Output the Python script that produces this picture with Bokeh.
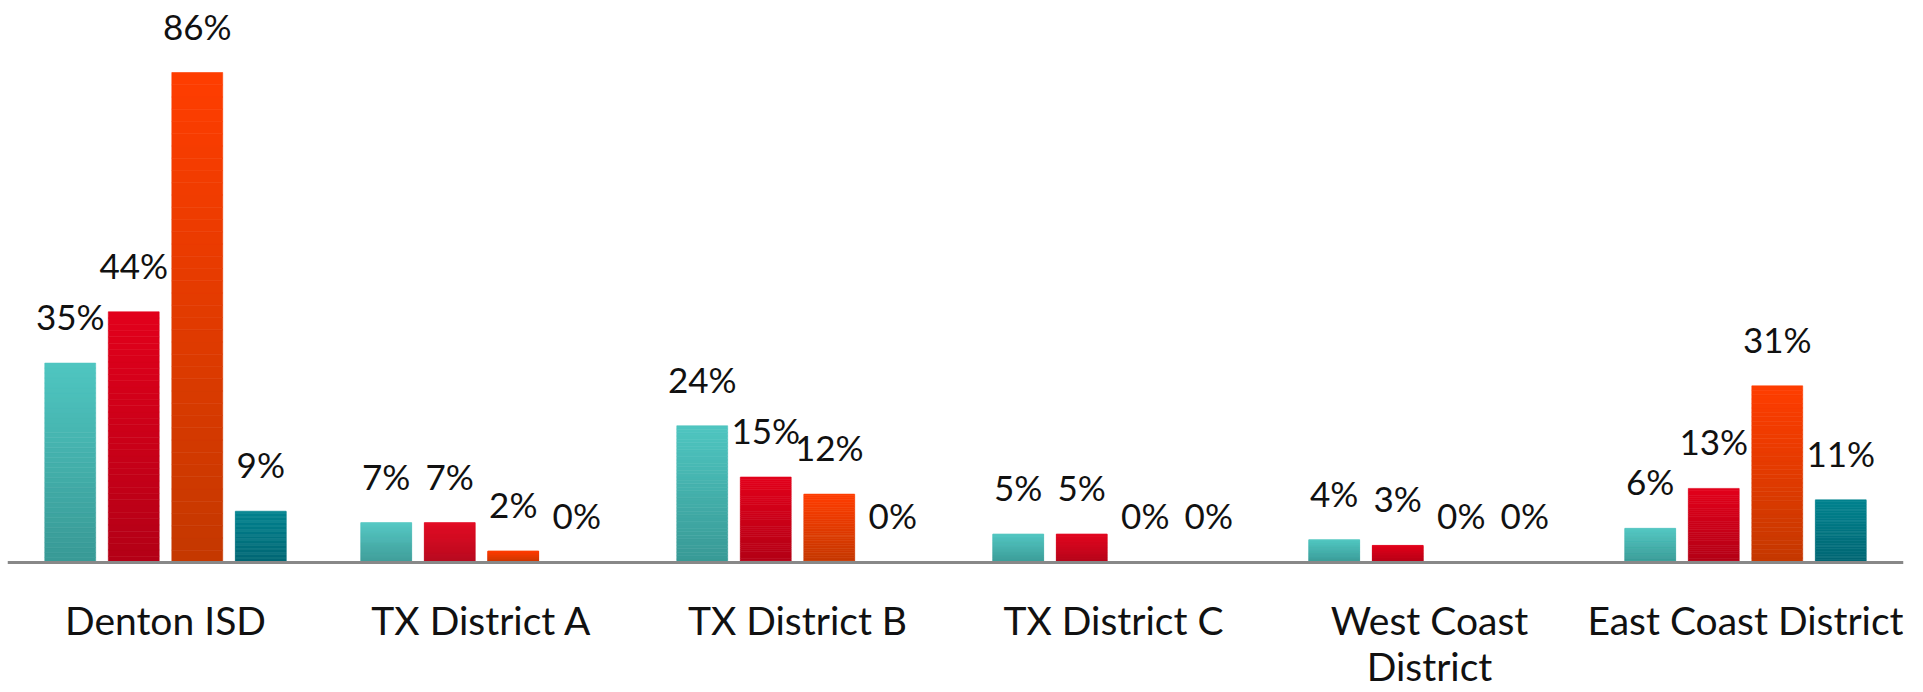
from bokeh.plotting import figure
from bokeh.models import ColumnDataSource, LabelSet, Range1d, Span
from bokeh.core.properties import value
from bokeh.embed import file_html
from bokeh.resources import INLINE

# ---- data ----
categories = ["Denton ISD", "TX District A", "TX District B", "TX District C",
              "West Coast\nDistrict", "East Coast District"]
series_teal = [35, 7, 24, 5, 4, 6]
series_red = [44, 7, 15, 5, 3, 13]
series_orange = [86, 2, 12, 0, 0, 31]
series_darkteal = [9, 0, 0, 0, 0, 11]

series = [series_teal, series_red, series_orange, series_darkteal]
# (top colour, bottom colour) of each series' vertical gradient
gradients = [("#4fc6c1", "#389995"),
             ("#e2001b", "#b30016"),
             ("#ff3d00", "#c43800"),
             ("#00838f", "#006673")]

BAR_W = 0.161
STEP = 0.201
N_SLICES = 40

def hex2rgb(h):
    h = h.lstrip("#")
    return tuple(int(h[i:i + 2], 16) for i in (0, 2, 4))

def mix(c_top, c_bot, t):
    a, b = hex2rgb(c_top), hex2rgb(c_bot)
    return "#%02x%02x%02x" % tuple(int(round(b[i] + (a[i] - b[i]) * t)) for i in range(3))

# frame spans the full height; the category labels live below y = 0
p = figure(width=1923, height=692, output_backend="svg", toolbar_location=None,
           x_range=Range1d(0, 6.0), y_range=Range1d(-22.82, 98.64),
           x_axis_location=None, y_axis_location=None,
           min_border_left=7, min_border_right=20,
           min_border_top=0, min_border_bottom=0)
p.outline_line_color = None
p.xgrid.visible = False
p.ygrid.visible = False
p.background_fill_color = "white"

lab_x, lab_y, lab_t = [], [], []
for s_idx, vals in enumerate(series):
    top_c, bot_c = gradients[s_idx]
    off = (s_idx - 1.5) * STEP
    L, R, B, T, C = [], [], [], [], []
    for c_idx, v in enumerate(vals):
        xc = c_idx + 0.5 + off
        lab_x.append(xc)
        lab_y.append(v)
        lab_t.append(f"{v}%")
        if v <= 0:
            continue
        for k in range(N_SLICES):
            L.append(xc - BAR_W / 2)
            R.append(xc + BAR_W / 2)
            B.append(v * k / N_SLICES)
            T.append(v * (k + 1) / N_SLICES)
            C.append(mix(top_c, bot_c, (k + 0.5) / N_SLICES))
    src = ColumnDataSource(dict(left=L, right=R, bottom=B, top=T, color=C))
    p.quad(left="left", right="right", bottom="bottom", top="top", source=src,
           fill_color="color", line_color="color", line_width=0.6)

# category axis line at zero
p.add_layout(Span(location=0, dimension="width", line_color="#888888", line_width=3))

# value labels above the bars
lab_src = ColumnDataSource(dict(x=lab_x, y=lab_y, text=lab_t))
p.add_layout(LabelSet(x="x", y="y", text="text", source=lab_src, y_offset=33,
                      text_align="center", text_baseline="alphabetic",
                      text_font=value("Lato"), text_font_size="35px",
                      text_color="#111111"))

# category labels (one LabelSet per text line)
line1_x, line1_t, line2_x, line2_t = [], [], [], []
for i, c in enumerate(categories):
    parts = c.split("\n")
    line1_x.append(i + 0.5)
    line1_t.append(parts[0])
    if len(parts) > 1:
        line2_x.append(i + 0.5)
        line2_t.append(parts[1])
for xs, ts, off in ((line1_x, line1_t, -73), (line2_x, line2_t, -119)):
    src = ColumnDataSource(dict(x=xs, y=[0] * len(xs), text=ts))
    p.add_layout(LabelSet(x="x", y="y", text="text", source=src, y_offset=off,
                          text_align="center", text_baseline="alphabetic",
                          text_font=value("Lato"), text_font_size="39px",
                          text_color="#111111"))

open("out.html", "w").write(file_html(p, INLINE))
